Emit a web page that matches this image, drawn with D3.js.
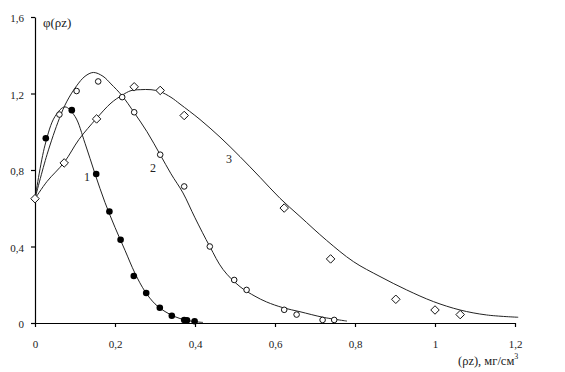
<!DOCTYPE html>
<html>
<head>
<meta charset="utf-8">
<script src="https://cdn.jsdelivr.net/npm/d3@7"></script>
<style>
  html, body { margin: 0; padding: 0; background: #fff; }
  svg text { font-family: "Liberation Serif", "Times New Roman", serif; fill: #222; }
</style>
</head>
<body>
<div id="chart"></div>
<script>
'use strict';

// tick values
var xTicks = [0, 0.2, 0.4, 0.6, 0.8, 1.0, 1.2];
var yTicks = [0, 0.4, 0.8, 1.2, 1.6];

// measured points (x = ρz, y = φ(ρz))
var pts1 = [[0.027, 0.966], [0.092, 1.113], [0.153, 0.779], [0.186, 0.583], [0.214, 0.435],
  [0.247, 0.246], [0.278, 0.157], [0.312, 0.080], [0.342, 0.038], [0.373, 0.016],
  [0.380, 0.014], [0.399, 0.009]];
var pts2 = [[0.061, 1.09], [0.104, 1.213], [0.158, 1.263], [0.218, 1.181], [0.248, 1.102],
  [0.313, 0.88], [0.373, 0.714], [0.437, 0.400], [0.498, 0.225], [0.529, 0.173],
  [0.623, 0.069], [0.654, 0.044], [0.719, 0.016], [0.748, 0.016]];
var pts3 = [[0, 0.65], [0.073, 0.837], [0.154, 1.067], [0.248, 1.235], [0.313, 1.216],
  [0.373, 1.085], [0.623, 0.601], [0.739, 0.335], [0.902, 0.124], [1.0, 0.068], [1.063, 0.044]];

// calculated curves
var curve1 = [[0, 0.65], [0.025, 0.93], [0.05, 1.08], [0.075, 1.13], [0.1, 1.08], [0.125, 0.94],
  [0.15, 0.78], [0.175, 0.63], [0.2, 0.5], [0.225, 0.38], [0.25, 0.26], [0.275, 0.165],
  [0.3, 0.10], [0.325, 0.06], [0.35, 0.033], [0.375, 0.016], [0.4, 0.007], [0.42, 0.003]];
var curve2 = [[0, 0.65], [0.03, 0.88], [0.061, 1.07], [0.08, 1.16], [0.104, 1.24], [0.125, 1.29],
  [0.146, 1.31], [0.17, 1.29], [0.19, 1.25], [0.217, 1.19], [0.248, 1.10], [0.28, 1.0],
  [0.313, 0.88], [0.34, 0.78], [0.37, 0.68], [0.4, 0.55], [0.437, 0.40], [0.47, 0.28],
  [0.5125, 0.19], [0.55, 0.14], [0.579, 0.11], [0.62, 0.08], [0.6625, 0.059], [0.72, 0.03], [0.78, 0.01]];
var curve3 = [[0, 0.65], [0.03, 0.74], [0.073, 0.84], [0.11, 0.96], [0.154, 1.07], [0.19, 1.15],
  [0.217, 1.19], [0.24, 1.215], [0.263, 1.22], [0.29, 1.22], [0.3125, 1.21], [0.34, 1.18],
  [0.3625, 1.145], [0.4125, 1.064], [0.4625, 0.972], [0.5125, 0.87], [0.5625, 0.762],
  [0.6125, 0.652], [0.6625, 0.557], [0.729, 0.432], [0.796, 0.321], [0.8625, 0.243],
  [0.929, 0.173], [0.996, 0.112], [1.0625, 0.068], [1.129, 0.042], [1.208, 0.03]];

// curve labels
var curveLabels = [{ text: '1', x: 0.13, y: 0.74 }, { text: '2', x: 0.295, y: 0.79 }, { text: '3', x: 0.485, y: 0.835 }];

var W = 565, H = 372;
var margin = { top: 17, right: 50, bottom: 49, left: 35 };
var serif = '"Liberation Serif", "Times New Roman", serif';

var svg = d3.select('#chart').append('svg')
  .attr('width', W)
  .attr('height', H);

var x = d3.scaleLinear().domain([0, 1.2]).range([margin.left, W - margin.right]);
var y = d3.scaleLinear().domain([0, 1.6]).range([H - margin.bottom, margin.top]);

var fmt = function(d) { return d3.format('~g')(d).replace('.', ','); };

/* axes */
var xAxis = svg.append('g')
  .attr('transform', 'translate(0,' + y(0) + ')')
  .call(d3.axisBottom(x).tickValues(xTicks).tickFormat(fmt).tickSize(4).tickSizeOuter(0));
xAxis.selectAll('text').attr('dy', '1.6em');

var yAxis = svg.append('g')
  .attr('transform', 'translate(' + x(0) + ',0)')
  .call(d3.axisLeft(y).tickValues(yTicks).tickFormat(fmt).tickSize(4).tickSizeOuter(0));
yAxis.selectAll('text').attr('x', -11).attr('dy', '0.45em');

svg.selectAll('g').filter(function() { return this.hasAttribute('font-family'); })
  .attr('font-family', serif)
  .attr('font-size', 11);
svg.selectAll('.domain, .tick line').attr('stroke', '#000').attr('stroke-width', 1.2);
svg.selectAll('.tick text').attr('fill', '#333');

/* curves */
var line = d3.line()
  .x(function(d) { return x(d[0]); })
  .y(function(d) { return y(d[1]); })
  .curve(d3.curveCatmullRom.alpha(0.5));

[curve1, curve2, curve3].forEach(function(c) {
  svg.append('path')
    .datum(c)
    .attr('d', line)
    .attr('fill', 'none')
    .attr('stroke', '#222')
    .attr('stroke-width', 1);
});

/* markers */
svg.append('g').selectAll('circle')
  .data(pts1).enter().append('circle')
  .attr('cx', function(d) { return x(d[0]); })
  .attr('cy', function(d) { return y(d[1]); })
  .attr('r', 3.3)
  .attr('fill', '#000');

svg.append('g').selectAll('circle')
  .data(pts2).enter().append('circle')
  .attr('cx', function(d) { return x(d[0]); })
  .attr('cy', function(d) { return y(d[1]); })
  .attr('r', 2.8)
  .attr('fill', '#fff')
  .attr('stroke', '#111')
  .attr('stroke-width', 1);

var diamond = d3.symbol().type(d3.symbolDiamond2).size(46);
svg.append('g').selectAll('path')
  .data(pts3).enter().append('path')
  .attr('d', diamond)
  .attr('transform', function(d) { return 'translate(' + x(d[0]) + ',' + y(d[1]) + ')'; })
  .attr('fill', '#fff')
  .attr('stroke', '#111')
  .attr('stroke-width', 1);

/* labels */
svg.selectAll('.clabel')
  .data(curveLabels).enter().append('text')
  .attr('class', 'clabel')
  .attr('x', function(d) { return x(d.x); })
  .attr('y', function(d) { return y(d.y); })
  .attr('text-anchor', 'middle')
  .style('font-size', '12px')
  .text(function(d) { return d.text; });

svg.append('text')
  .attr('x', 43)
  .attr('y', 27)
  .style('font-size', '13px')
  .text('φ(ρz)');

var xt = svg.append('text')
  .attr('x', 458)
  .attr('y', 365)
  .style('font-size', '12.5px')
  .text('(ρz), мг/см');
xt.append('tspan')
  .attr('dy', -6)
  .style('font-size', '8px')
  .text('3');
</script>
</body>
</html>
